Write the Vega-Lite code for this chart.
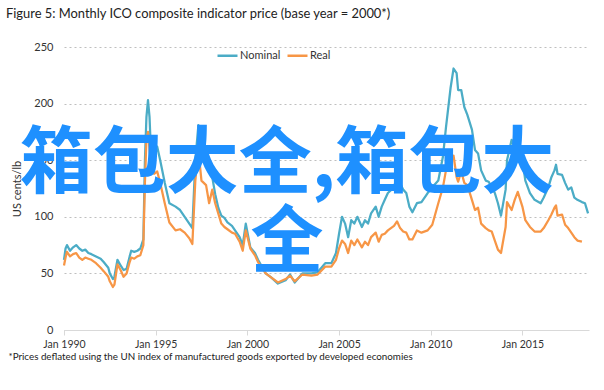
{
  "$schema": "https://vega.github.io/schema/vega-lite/v6.json",
  "width": 525,
  "height": 283,
  "autosize": "none",
  "padding": {"left": 64, "top": 47, "right": 15, "bottom": 60},
  "background": "white",
  "title": {
    "text": "Figure 5: Monthly  ICO composite indicator price (base year = 2000*)",
    "anchor": "start",
    "frame": "group",
    "dx": -58,
    "offset": 20,
    "font": "Lato",
    "fontSize": 12.9,
    "fontWeight": "normal",
    "color": "#222222"
  },
  "config": {
    "view": {"stroke": null},
    "font": "Lato"
  },
  "layer": [
    {
      "data": {
        "values": [
          {"date": "1990-01-01", "Nominal": 62, "Real": 57},
          {"date": "1990-02-01", "Nominal": 72, "Real": 64},
          {"date": "1990-03-01", "Nominal": 75, "Real": 69},
          {"date": "1990-05-01", "Nominal": 70, "Real": 65},
          {"date": "1990-07-01", "Nominal": 73, "Real": 67},
          {"date": "1990-09-01", "Nominal": 75, "Real": 68},
          {"date": "1990-11-01", "Nominal": 72, "Real": 64},
          {"date": "1991-01-01", "Nominal": 70, "Real": 62},
          {"date": "1991-03-01", "Nominal": 71, "Real": 64},
          {"date": "1991-05-01", "Nominal": 68, "Real": 63},
          {"date": "1991-07-01", "Nominal": 67, "Real": 62},
          {"date": "1991-10-01", "Nominal": 65, "Real": 59},
          {"date": "1992-01-01", "Nominal": 63, "Real": 55},
          {"date": "1992-03-01", "Nominal": 60, "Real": 52},
          {"date": "1992-06-01", "Nominal": 55, "Real": 47},
          {"date": "1992-07-01", "Nominal": 50, "Real": 43},
          {"date": "1992-09-01", "Nominal": 45, "Real": 38},
          {"date": "1992-10-01", "Nominal": 47, "Real": 40},
          {"date": "1992-12-01", "Nominal": 62, "Real": 58},
          {"date": "1993-02-01", "Nominal": 57, "Real": 53},
          {"date": "1993-04-01", "Nominal": 53, "Real": 47},
          {"date": "1993-06-01", "Nominal": 54, "Real": 50},
          {"date": "1993-08-01", "Nominal": 65, "Real": 60},
          {"date": "1993-09-01", "Nominal": 70, "Real": 64},
          {"date": "1993-11-01", "Nominal": 69, "Real": 63},
          {"date": "1994-01-01", "Nominal": 70, "Real": 65},
          {"date": "1994-03-01", "Nominal": 72, "Real": 66},
          {"date": "1994-05-01", "Nominal": 80, "Real": 75},
          {"date": "1994-06-01", "Nominal": 150, "Real": 130},
          {"date": "1994-07-01", "Nominal": 188, "Real": 168},
          {"date": "1994-08-01", "Nominal": 203, "Real": 175},
          {"date": "1994-09-01", "Nominal": 188, "Real": 160},
          {"date": "1994-10-01", "Nominal": 155, "Real": 148},
          {"date": "1994-12-01", "Nominal": 152, "Real": 138},
          {"date": "1995-02-01", "Nominal": 162, "Real": 140},
          {"date": "1995-04-01", "Nominal": 150, "Real": 130},
          {"date": "1995-07-01", "Nominal": 130, "Real": 112},
          {"date": "1995-10-01", "Nominal": 112, "Real": 95},
          {"date": "1996-02-01", "Nominal": 109, "Real": 88},
          {"date": "1996-05-01", "Nominal": 106, "Real": 89},
          {"date": "1996-08-01", "Nominal": 100, "Real": 86},
          {"date": "1996-11-01", "Nominal": 94, "Real": 81},
          {"date": "1997-01-01", "Nominal": 90, "Real": 76},
          {"date": "1997-03-01", "Nominal": 150, "Real": 132},
          {"date": "1997-05-01", "Nominal": 181, "Real": 159},
          {"date": "1997-07-01", "Nominal": 157, "Real": 132},
          {"date": "1997-10-01", "Nominal": 150, "Real": 128},
          {"date": "1997-12-01", "Nominal": 140, "Real": 112},
          {"date": "1998-02-01", "Nominal": 135, "Real": 124},
          {"date": "1998-04-01", "Nominal": 120, "Real": 112},
          {"date": "1998-06-01", "Nominal": 108, "Real": 103},
          {"date": "1998-08-01", "Nominal": 101, "Real": 94},
          {"date": "1998-10-01", "Nominal": 99, "Real": 91},
          {"date": "1998-12-01", "Nominal": 95, "Real": 89},
          {"date": "1999-03-01", "Nominal": 92, "Real": 86},
          {"date": "1999-05-01", "Nominal": 88, "Real": 85},
          {"date": "1999-08-01", "Nominal": 82, "Real": 78},
          {"date": "1999-10-01", "Nominal": 75, "Real": 70},
          {"date": "1999-12-01", "Nominal": 94, "Real": 88},
          {"date": "2000-03-01", "Nominal": 73, "Real": 72},
          {"date": "2000-06-01", "Nominal": 68, "Real": 66},
          {"date": "2000-08-01", "Nominal": 62, "Real": 60},
          {"date": "2001-01-01", "Nominal": 50, "Real": 50},
          {"date": "2001-05-01", "Nominal": 46, "Real": 46},
          {"date": "2001-09-01", "Nominal": 41, "Real": 42},
          {"date": "2002-02-01", "Nominal": 44, "Real": 45},
          {"date": "2002-05-01", "Nominal": 49, "Real": 48},
          {"date": "2002-08-01", "Nominal": 42, "Real": 43},
          {"date": "2003-01-01", "Nominal": 50, "Real": 49},
          {"date": "2003-07-01", "Nominal": 50, "Real": 48},
          {"date": "2003-11-01", "Nominal": 51, "Real": 49},
          {"date": "2004-04-01", "Nominal": 59, "Real": 56},
          {"date": "2004-08-01", "Nominal": 59, "Real": 56},
          {"date": "2004-11-01", "Nominal": 68, "Real": 62},
          {"date": "2005-01-01", "Nominal": 85, "Real": 72},
          {"date": "2005-03-01", "Nominal": 100, "Real": 79},
          {"date": "2005-05-01", "Nominal": 94, "Real": 76},
          {"date": "2005-07-01", "Nominal": 82, "Real": 68},
          {"date": "2005-09-01", "Nominal": 97, "Real": 79},
          {"date": "2005-11-01", "Nominal": 94, "Real": 75},
          {"date": "2006-01-01", "Nominal": 100, "Real": 80},
          {"date": "2006-04-01", "Nominal": 91, "Real": 73},
          {"date": "2006-06-01", "Nominal": 97, "Real": 78},
          {"date": "2006-08-01", "Nominal": 94, "Real": 75},
          {"date": "2006-10-01", "Nominal": 103, "Real": 82},
          {"date": "2007-01-01", "Nominal": 109, "Real": 86},
          {"date": "2007-03-01", "Nominal": 100, "Real": 78},
          {"date": "2007-05-01", "Nominal": 109, "Real": 84},
          {"date": "2007-07-01", "Nominal": 115, "Real": 85},
          {"date": "2007-09-01", "Nominal": 121, "Real": 88},
          {"date": "2008-01-01", "Nominal": 126, "Real": 92},
          {"date": "2008-03-01", "Nominal": 137, "Real": 96},
          {"date": "2008-05-01", "Nominal": 130, "Real": 90},
          {"date": "2008-07-01", "Nominal": 124, "Real": 87},
          {"date": "2008-09-01", "Nominal": 121, "Real": 86},
          {"date": "2008-11-01", "Nominal": 109, "Real": 80},
          {"date": "2009-01-01", "Nominal": 104, "Real": 80},
          {"date": "2009-04-01", "Nominal": 112, "Real": 88},
          {"date": "2009-07-01", "Nominal": 113, "Real": 86},
          {"date": "2009-11-01", "Nominal": 121, "Real": 88},
          {"date": "2010-02-01", "Nominal": 126, "Real": 93},
          {"date": "2010-06-01", "Nominal": 132, "Real": 112},
          {"date": "2010-09-01", "Nominal": 153, "Real": 126},
          {"date": "2010-11-01", "Nominal": 179, "Real": 141},
          {"date": "2011-02-01", "Nominal": 214, "Real": 150},
          {"date": "2011-04-01", "Nominal": 231, "Real": 154},
          {"date": "2011-06-01", "Nominal": 227, "Real": 135},
          {"date": "2011-07-01", "Nominal": 212, "Real": 131},
          {"date": "2011-09-01", "Nominal": 212, "Real": 140},
          {"date": "2011-11-01", "Nominal": 197, "Real": 130},
          {"date": "2012-01-01", "Nominal": 190, "Real": 128},
          {"date": "2012-04-01", "Nominal": 177, "Real": 115},
          {"date": "2012-06-01", "Nominal": 159, "Real": 106},
          {"date": "2012-08-01", "Nominal": 156, "Real": 108},
          {"date": "2012-10-01", "Nominal": 141, "Real": 94},
          {"date": "2013-01-01", "Nominal": 132, "Real": 90},
          {"date": "2013-03-01", "Nominal": 131, "Real": 88},
          {"date": "2013-05-01", "Nominal": 126, "Real": 87},
          {"date": "2013-07-01", "Nominal": 121, "Real": 79},
          {"date": "2013-09-01", "Nominal": 112, "Real": 71},
          {"date": "2013-11-01", "Nominal": 101, "Real": 68},
          {"date": "2014-02-01", "Nominal": 124, "Real": 91},
          {"date": "2014-03-01", "Nominal": 150, "Real": 113},
          {"date": "2014-06-01", "Nominal": 168, "Real": 106},
          {"date": "2014-08-01", "Nominal": 162, "Real": 115},
          {"date": "2014-10-01", "Nominal": 170, "Real": 122},
          {"date": "2015-01-01", "Nominal": 150, "Real": 109},
          {"date": "2015-03-01", "Nominal": 132, "Real": 97},
          {"date": "2015-06-01", "Nominal": 121, "Real": 91},
          {"date": "2015-09-01", "Nominal": 115, "Real": 87},
          {"date": "2016-01-01", "Nominal": 112, "Real": 87},
          {"date": "2016-03-01", "Nominal": 117, "Real": 90},
          {"date": "2016-06-01", "Nominal": 126, "Real": 97},
          {"date": "2016-08-01", "Nominal": 135, "Real": 102},
          {"date": "2016-10-01", "Nominal": 141, "Real": 108},
          {"date": "2016-11-01", "Nominal": 146, "Real": 110},
          {"date": "2016-12-01", "Nominal": 138, "Real": 101},
          {"date": "2017-03-01", "Nominal": 137, "Real": 102},
          {"date": "2017-05-01", "Nominal": 130, "Real": 93},
          {"date": "2017-07-01", "Nominal": 124, "Real": 90},
          {"date": "2017-09-01", "Nominal": 126, "Real": 86},
          {"date": "2017-11-01", "Nominal": 117, "Real": 82},
          {"date": "2018-01-01", "Nominal": 115, "Real": 79},
          {"date": "2018-04-01", "Nominal": 113, "Real": 78},
          {"date": "2018-06-01", "Nominal": 112, "Real": null},
          {"date": "2018-08-01", "Nominal": 103, "Real": null}
        ]
      },
      "transform": [
        {"fold": ["Nominal", "Real"], "as": ["series", "value"]},
        {"filter": "datum.value != null"}
      ],
      "mark": {"type": "line", "strokeWidth": 2.25, "strokeJoin": "round"},
      "encoding": {
        "x": {
          "field": "date",
          "type": "temporal",
          "scale": {"domain": ["1990-01-01", "2018-08-20"], "nice": false},
          "axis": {
            "title": "*Prices deflated using the UN index of manufactured goods exported by developed economies",
            "titleAnchor": "start",
            "titleAlign": "left",
            "titleX": -56,
            "titleY": 29,
            "titleBaseline": "alphabetic",
            "titleFont": "Lato",
            "titleFontSize": 9.8,
            "titleFontWeight": "normal",
            "titleColor": "#222222",
            "format": "%b %Y",
            "values": [
              {"year": 1990, "month": 1, "date": 1},
              {"year": 1995, "month": 1, "date": 1},
              {"year": 2000, "month": 1, "date": 1},
              {"year": 2005, "month": 1, "date": 1},
              {"year": 2010, "month": 1, "date": 1},
              {"year": 2015, "month": 1, "date": 1}
            ],
            "grid": false,
            "domainColor": "#D9D9D9",
            "tickColor": "#D9D9D9",
            "tickSize": 5,
            "labelFont": "Lato",
            "labelFontSize": 10.5,
            "labelColor": "#333333",
            "labelPadding": 4,
            "labelFlush": false
          }
        },
        "y": {
          "field": "value",
          "type": "quantitative",
          "scale": {"domain": [0, 250], "nice": false},
          "axis": {
            "title": "US cents/lb",
            "titleFont": "Lato",
            "titleFontSize": 11,
            "titleFontWeight": "normal",
            "titleColor": "#333333",
            "titlePadding": 11,
            "values": [0, 50, 100, 150, 200, 250],
            "domain": false,
            "ticks": false,
            "labelPadding": 11,
            "labelFont": "Lato",
            "labelFontSize": 11,
            "labelColor": "#333333",
            "gridColor": "#BFBFBF",
            "gridDash": [2, 3],
            "gridWidth": 1
          }
        },
        "color": {
          "field": "series",
          "type": "nominal",
          "scale": {"domain": ["Nominal", "Real"], "range": ["#4BACC6", "#F79646"]},
          "legend": {
            "title": null,
            "orient": "none",
            "direction": "horizontal",
            "legendX": 152,
            "legendY": -3,
            "symbolType": "stroke",
            "symbolSize": 400,
            "symbolStrokeWidth": 2.5,
            "labelFont": "Lato",
            "labelFontSize": 11,
            "labelColor": "#333333",
            "labelOffset": 1,
            "columnPadding": 1
          }
        }
      }
    },
    {
      "data": {"values": [{}]},
      "mark": {
        "type": "text",
        "text": ["箱包大全,箱包大", "全"],
        "font": "Noto Sans CJK SC",
        "fontSize": 73,
        "fontWeight": "bold",
        "color": "#1E90FF",
        "lineHeight": 79,
        "align": "center",
        "baseline": "middle"
      },
      "encoding": {
        "x": {"datum": {"year": 2002, "month": 3, "date": 1}, "type": "temporal"},
        "y": {"datum": 146, "type": "quantitative"}
      }
    }
  ]
}
